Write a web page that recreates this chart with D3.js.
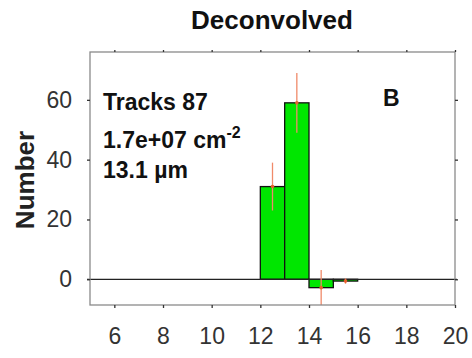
<!DOCTYPE html>
<html><head><meta charset="utf-8">
<script src="https://cdn.jsdelivr.net/npm/d3@7"></script>
<style>body{margin:0;background:#fff}svg{display:block}text{font-family:"Liberation Sans",Arial,sans-serif}</style>
</head><body><svg id="c" width="472" height="358"></svg>
<script>
const binStarts = [12, 13, 14, 15];
const binWidth = 1;
const counts = [31, 59, -2.8, -0.6];
const errors = [8, 10, 5.9, 0.9];
const xTicks = [6, 8, 10, 12, 14, 16, 18, 20];
const yTicks = [0, 20, 40, 60];
const title = "Deconvolved";
const yLabel = "Number";
const infoLines = ["Tracks 87", "1.7e+07 cm", "13.1 µm"];
const panelLabel = "B";

const svg = d3.select("#c");
const L = 90, R = 455, T = 52, B = 305;
const x = d3.scaleLinear().domain([5, 20]).range([L, R]);
const y = d3.scaleLinear().domain([-8.6, 76]).range([B, T]);

const clip = svg.append("clipPath").attr("id", "pc").append("rect")
  .attr("x", L).attr("y", T).attr("width", R - L).attr("height", B - T);

// bars
const data = binStarts.map((s, i) => ({s, v: counts[i], e: errors[i]}));
svg.append("g").selectAll("rect").data(data).join("rect")
  .attr("x", d => x(d.s)).attr("width", d => x(d.s + binWidth) - x(d.s))
  .attr("y", d => y(Math.max(0, d.v))).attr("height", d => Math.abs(y(d.v) - y(0)))
  .attr("fill", "#00e600").attr("stroke", "#111").attr("stroke-width", 1.3);

// zero line
svg.append("line").attr("x1", L - 3).attr("x2", R + 2).attr("y1", y(0)).attr("y2", y(0))
  .attr("stroke", "#222").attr("stroke-width", 1.3);

// error bars
const eg = svg.append("g").attr("clip-path", "url(#pc)");
eg.selectAll("line").data(data).join("line")
  .attr("x1", d => x(d.s + binWidth / 2)).attr("x2", d => x(d.s + binWidth / 2))
  .attr("y1", d => y(d.v + d.e)).attr("y2", d => y(d.v - d.e))
  .attr("stroke", "#f08a6a").attr("stroke-width", 1.3);
eg.selectAll("circle").data(data).join("circle")
  .attr("cx", d => x(d.s + binWidth / 2)).attr("cy", d => y(d.v)).attr("r", 1.8)
  .attr("fill", "#e8602c");

// frame
svg.append("rect").attr("x", L).attr("y", T).attr("width", R - L).attr("height", B - T)
  .attr("fill", "none").attr("stroke", "#8a8a8a").attr("stroke-width", 1.3);

// axes
const xb = svg.append("g").attr("transform", `translate(0,${B})`)
  .call(d3.axisBottom(x).tickValues(xTicks).tickSize(3).tickPadding(20).tickFormat(d3.format("d")));
const xt = svg.append("g").attr("transform", `translate(0,${T})`)
  .call(d3.axisTop(x).tickValues(xTicks).tickSize(2).tickFormat(""));
const yl = svg.append("g").attr("transform", `translate(${L},0)`)
  .call(d3.axisLeft(y).tickValues(yTicks).tickSize(3).tickPadding(15));
const yr = svg.append("g").attr("transform", `translate(${R},0)`)
  .call(d3.axisRight(y).tickValues(yTicks).tickSize(3).tickFormat(""));
[xb, xt, yl, yr].forEach(g => {
  g.select(".domain").remove();
  g.selectAll(".tick line").attr("stroke", "#333").attr("stroke-width", 1.3);
  g.selectAll("text").attr("font-family", "Liberation Sans, Arial, sans-serif")
    .attr("font-size", 23).attr("fill", "#333");
});

// titles
svg.append("text").attr("x", 272).attr("y", 29).attr("text-anchor", "middle")
  .attr("font-size", 26).attr("font-weight", "bold").attr("fill", "#111").text(title);
svg.append("text").attr("transform", "translate(34,180) rotate(-90)").attr("text-anchor", "middle")
  .attr("font-size", 26).attr("font-weight", "bold").attr("fill", "#222").text(yLabel);

// annotations
const ann = svg.append("g").attr("font-size", 23).attr("font-weight", "bold").attr("fill", "#111");
ann.append("text").attr("x", 103).attr("y", 110).text(infoLines[0]);
const t2 = ann.append("text").attr("x", 103).attr("y", 148);
t2.append("tspan").text(infoLines[1]);
t2.append("tspan").attr("dy", -10).attr("font-size", 16).text("-2");
ann.append("text").attr("x", 103).attr("y", 178).text(infoLines[2]);
ann.append("text").attr("x", 383).attr("y", 106).text(panelLabel);
</script></body></html>
